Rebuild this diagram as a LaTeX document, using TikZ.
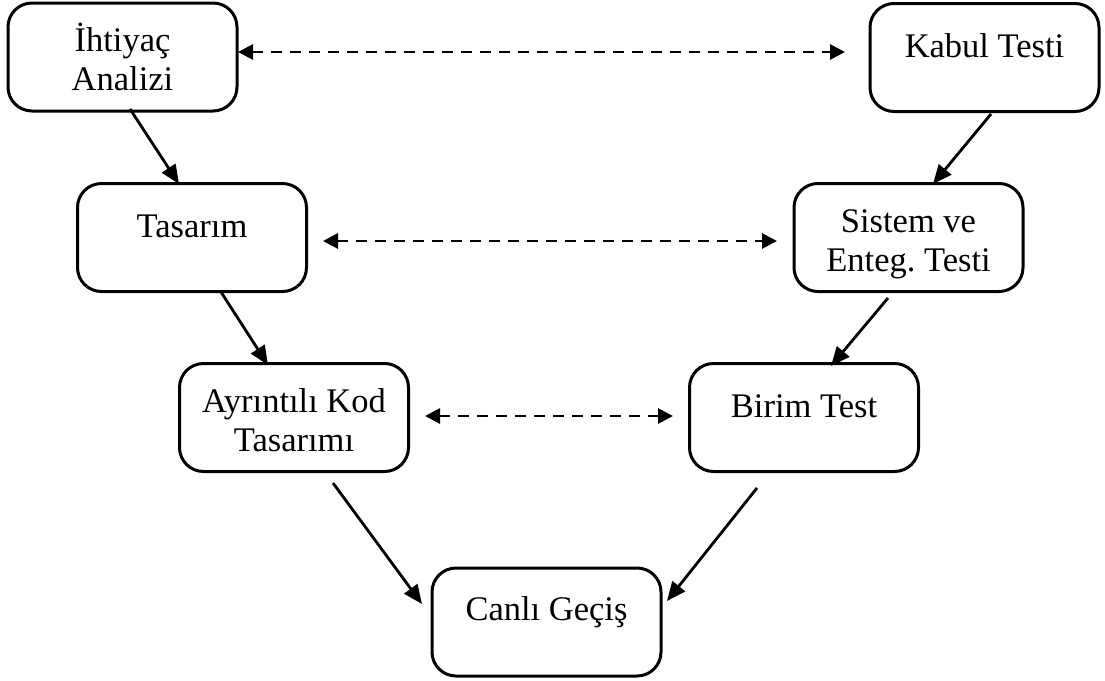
\documentclass[tikz,border=0pt]{standalone}
\usepackage{fontspec}
\setmainfont{Liberation Serif}
\usetikzlibrary{arrows.meta}
\frenchspacing
\tikzset{
  box/.style={draw=black, line width=3pt, rounded corners=24pt, minimum width=229pt, minimum height=108pt, inner sep=0pt},
  lbl/.style={font=\fontsize{34.5}{39}\selectfont, align=center, inner sep=0pt, anchor=north},
  flow/.style={line width=2.8pt, -{Triangle[length=19pt,width=16pt]}},
  pair/.style={line width=2.8pt, dash pattern=on 11pt off 8pt, {Triangle[length=15pt,width=15pt]}-{Triangle[length=15pt,width=15pt]}}
}
\begin{document}
\begin{tikzpicture}[x=1pt,y=-1pt]
\useasboundingbox (0,0) rectangle (1105,680);
% boxes
\node[box] (b1) at (122.5,57) {};
\node[box] (b2) at (984.5,57.5) {};
\node[box] (b3) at (192,237.5) {};
\node[box] (b4) at (908.5,237.5) {};
\node[box] (b5) at (294,417.5) {};
\node[box] (b6) at (804,417.5) {};
\node[box] (b7) at (546.5,622) {};
% labels (north = first baseline - 27.3)
\node[lbl] (t1) at (122.5,22.7) {\strut İhtiyaç\\Analizi\strut};
\node[lbl] (t2) at (984.5,29.7) {\strut Kabul Testi};
\node[lbl] (t3) at (192,209.7) {\strut Tasarım};
\node[lbl] (t4) at (908.5,204.7) {\strut Sistem ve\\Enteg.\ Testi\strut};
\node[lbl] (t5) at (294,384.7) {\strut Ayrıntılı Kod\\Tasarımı\strut};
\node[lbl] (t6) at (804,389.7) {\strut Birim Test};
\node[lbl] (t7) at (546.5,592.7) {\strut Canlı Geçiş};
% connector end points
\coordinate (a1s) at (130,109);
\coordinate (a1e) at (179,184);
\coordinate (a2s) at (991,114);
\coordinate (a2e) at (933,184);
\coordinate (a3s) at (221,292);
\coordinate (a3e) at (268,365);
\coordinate (a4s) at (888,298);
\coordinate (a4e) at (831,366);
\coordinate (a5s) at (333,483);
\coordinate (a5e) at (422,604);
\coordinate (a6s) at (757,488);
\coordinate (a6e) at (667,601);
\coordinate (d1s) at (238,52);
\coordinate (d1e) at (845,52);
\coordinate (d2s) at (323,241);
\coordinate (d2e) at (777,241);
\coordinate (d3s) at (425,416);
\coordinate (d3e) at (673,416);
% connectors
\draw[flow] (a1s) -- (a1e);
\draw[flow] (a2s) -- (a2e);
\draw[flow] (a3s) -- (a3e);
\draw[flow] (a4s) -- (a4e);
\draw[flow] (a5s) -- (a5e);
\draw[flow] (a6s) -- (a6e);
\draw[pair] (d1s) -- (d1e);
\draw[pair] (d2s) -- (d2e);
\draw[pair] (d3s) -- (d3e);
\end{tikzpicture}
\end{document}
